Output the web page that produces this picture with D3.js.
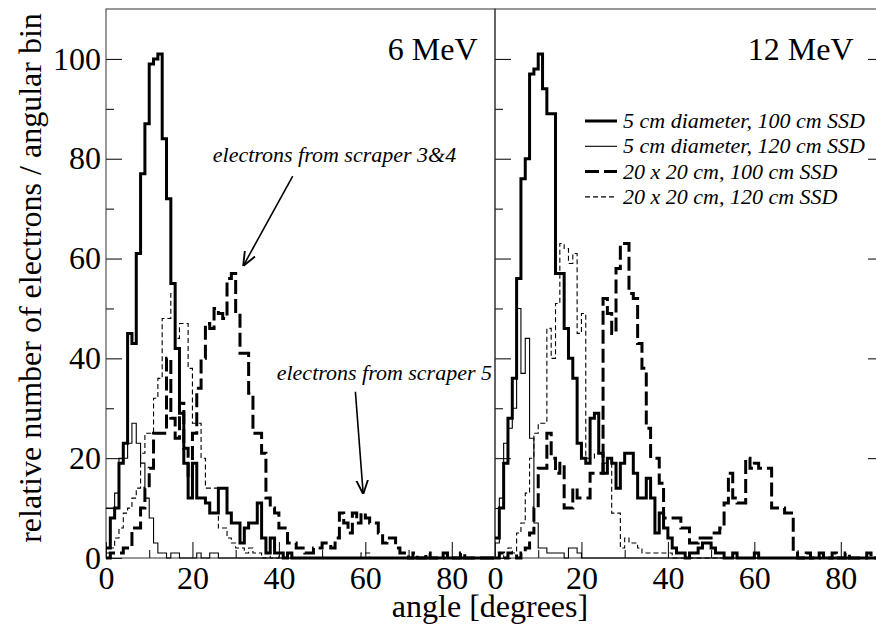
<!DOCTYPE html>
<html>
<head>
<meta charset="utf-8">
<script src="https://cdn.jsdelivr.net/npm/d3@7"></script>
<style>
body { margin: 0; background: #fff; }
svg { display: block; }
text { font-family: "Liberation Serif", "Times New Roman", serif; fill: #000; }
</style>
</head>
<body>
<script>
// 1 degree angular bins, 0..89
var angleBins = d3.range(0, 90);
var xTicks = [0, 20, 40, 60, 80];
var yTicks = [0, 20, 40, 60, 80, 100];
var panelNames = ["6 MeV", "12 MeV"];
var seriesNames = [
  "5 cm diameter, 100 cm SSD",
  "5 cm diameter, 120 cm SSD",
  "20 x 20 cm, 100 cm SSD",
  "20 x 20 cm, 120 cm SSD"
];

// 6 MeV
var thick6 = [2, 8, 10, 19, 23, 45, 43, 61, 77, 87,
  99, 100, 101, 84, 72, 55, 42, 29, 19, 12,
  19, 12, 12, 11, 9, 9, 14, 14, 9, 7,
  7, 3, 6, 7, 7, 11, 4, 1, 4, 1,
  1, 0, 1, 0, 0, 0, 0, 0, 0, 0,
  0, 0, 0, 0, 0, 0, 0, 0, 0, 0,
  0, 0, 0, 0, 0, 0, 0, 0, 0, 0,
  0, 0, 0, 0, 0, 0, 0, 0, 0, 0,
  0, 0, 0, 0, 0, 0, 0, 0, 0, 0];
var thin6 = [10, 10, 13, 20, 20, 23, 27, 23, 19, 12,
  8, 3, 1, 1, 0, 1, 1, 0, 0, 0,
  0, 1, 0, 0, 1, 1, 0, 0, 0, 0,
  0, 0, 0, 0, 0, 0, 0, 0, 0, 0,
  0, 0, 0, 0, 0, 0, 0, 0, 0, 0,
  0, 0, 0, 0, 0, 0, 0, 0, 0, 0,
  0, 0, 0, 0, 0, 0, 0, 0, 0, 0,
  0, 0, 0, 0, 0, 0, 0, 0, 0, 0,
  0, 0, 0, 0, 0, 0, 0, 0, 0, 0];
var dash6 = [0, 1, 1, 1, 2, 2, 6, 6, 10, 14,
  18, 25, 25, 25, 40, 28, 24, 31, 22, 16,
  25, 34, 40, 47, 46, 50, 49, 48, 56, 57,
  49, 41, 41, 33, 25, 25, 21, 12, 10, 9,
  6, 6, 3, 3, 2, 2, 1, 1, 2, 2,
  3, 3, 2, 4, 9, 7, 5, 9, 7, 9,
  8, 7, 7, 5, 3, 4, 4, 2, 1, 1,
  0, 1, 0, 0, 1, 0, 0, 0, 1, 0,
  0, 0, 1, 0, 0, 0, 0, 0, 0, 0];
var thinDash6 = [1, 2, 4, 6, 9, 10, 12, 14, 21, 25,
  25, 32, 36, 48, 48, 53, 44, 47, 47, 38,
  27, 27, 20, 14, 14, 14, 6, 6, 4, 3,
  2, 2, 1, 2, 1, 1, 0, 1, 0, 0,
  1, 0, 0, 0, 0, 0, 0, 0, 0, 0,
  0, 0, 0, 0, 0, 0, 0, 0, 0, 1,
  1, 0, 0, 0, 0, 0, 0, 0, 0, 0,
  0, 0, 0, 0, 0, 0, 0, 0, 0, 0,
  0, 0, 0, 0, 0, 0, 0, 0, 0, 0];

// 12 MeV
var thick12 = [4, 10, 19, 28, 36, 56, 76, 80, 97, 98,
  101, 94, 89, 89, 57, 57, 46, 40, 36, 23,
  20, 19, 28, 29, 21, 17, 20, 19, 14, 19,
  21, 21, 17, 12, 12, 16, 12, 5, 9, 6,
  4, 2, 1, 1, 0, 1, 1, 2, 3, 3,
  2, 1, 1, 0, 0, 1, 0, 0, 0, 0,
  1, 0, 0, 0, 0, 0, 0, 0, 0, 0,
  0, 0, 0, 0, 0, 0, 0, 0, 0, 0,
  0, 0, 0, 0, 0, 0, 0, 0, 0, 0];
var thin12 = [3, 12, 23, 26, 30, 50, 37, 44, 24, 7,
  2, 2, 1, 1, 1, 1, 0, 2, 2, 1,
  0, 0, 0, 0, 0, 0, 0, 0, 0, 0,
  0, 0, 0, 0, 0, 0, 0, 0, 0, 0,
  0, 0, 0, 0, 0, 0, 0, 0, 0, 0,
  0, 0, 0, 0, 0, 0, 0, 0, 0, 0,
  0, 0, 0, 0, 0, 0, 0, 0, 0, 0,
  0, 0, 0, 0, 0, 0, 0, 0, 0, 0,
  0, 0, 0, 0, 0, 0, 0, 0, 0, 0];
var dash12 = [0, 1, 0, 1, 1, 0, 1, 2, 5, 10,
  18, 18, 25, 20, 17, 19, 10, 10, 14, 12,
  12, 12, 17, 17, 17, 52, 49, 45, 58, 63,
  63, 53, 52, 43, 38, 26, 20, 20, 15, 8,
  8, 8, 8, 6, 6, 3, 3, 4, 4, 4,
  5, 5, 6, 11, 17, 12, 11, 11, 20, 18,
  19, 18, 18, 18, 10, 10, 10, 9, 9, 1,
  0, 0, 1, 0, 0, 1, 0, 0, 1, 0,
  0, 1, 0, 0, 0, 0, 1, 0, 0, 0];
var thinDash12 = [0, 1, 0, 2, 1, 5, 7, 13, 20, 25,
  27, 27, 46, 40, 51, 63, 62, 59, 61, 45,
  49, 20, 20, 21, 21, 19, 19, 9, 9, 2,
  4, 3, 3, 2, 1, 1, 1, 1, 1, 1,
  1, 0, 0, 0, 0, 0, 0, 0, 0, 0,
  0, 0, 0, 0, 0, 0, 0, 0, 0, 0,
  0, 0, 0, 0, 0, 0, 0, 0, 0, 0,
  0, 0, 0, 0, 0, 0, 0, 0, 0, 0,
  0, 0, 0, 0, 0, 0, 0, 0, 0, 0];

const W = 876, H = 629;
const marginLeft = 106, marginTop = 9;
const pw = 389, ph = 549;

var styles = [
  { w: 3, dash: null },
  { w: 1.1, dash: null },
  { w: 3, dash: "14,5" },
  { w: 1.1, dash: "5,3" }
];

var svg = d3.select("body").append("svg")
  .attr("width", W)
  .attr("height", H);

svg.append("defs").append("marker")
  .attr("id", "arrow")
  .attr("viewBox", "0 0 12 12")
  .attr("refX", 11.5).attr("refY", 6)
  .attr("markerWidth", 14).attr("markerHeight", 14)
  .attr("markerUnits", "userSpaceOnUse")
  .attr("orient", "auto")
  .append("path")
  .attr("d", "M0,1 L12,6 L0,11")
  .attr("fill", "none")
  .attr("stroke", "#000")
  .attr("stroke-width", 1.6);

var x = d3.scaleLinear().domain([0, 90]).range([0, pw]);
var y = d3.scaleLinear().domain([0, 110]).range([ph, 0]);

var line = d3.line()
  .x(d => x(d[0]))
  .y(d => y(d[1]))
  .curve(d3.curveStepAfter);

function histPoints(values) {
  var pts = values.map((v, i) => [angleBins[i], v]);
  pts.push([angleBins[angleBins.length - 1] + 1, values[values.length - 1]]);
  return pts;
}

function drawPanel(offset, series, name, isFirst) {
  var g = svg.append("g").attr("transform", "translate(" + offset + "," + marginTop + ")");

  // minor + major ticks, all pointing inward
  g.append("g").attr("transform", "translate(0," + ph + ")")
    .call(d3.axisBottom(x).tickValues(d3.range(10, 90, 20)).tickSize(-8).tickSizeOuter(0).tickFormat(""));
  var xa = g.append("g").attr("transform", "translate(0," + ph + ")")
    .call(d3.axisBottom(x).tickValues(xTicks).tickSize(-16).tickSizeOuter(0).tickPadding(8));
  xa.selectAll("text").attr("font-size", 32).attr("font-family", "Liberation Serif");

  g.append("g")
    .call(d3.axisLeft(y).tickValues(d3.range(10, 110, 20)).tickSize(-8).tickSizeOuter(0).tickFormat(""));
  var ya = g.append("g")
    .call(d3.axisLeft(y).tickValues(yTicks).tickSize(-16).tickSizeOuter(0).tickPadding(5));
  if (isFirst) {
    ya.selectAll("text").attr("font-size", 32).attr("font-family", "Liberation Serif");
  } else {
    ya.selectAll("text").remove();
    // right-hand ticks of the outer frame
    g.append("g").attr("transform", "translate(" + pw + ",0)")
      .call(d3.axisRight(y).tickValues(d3.range(10, 110, 20)).tickSize(-8).tickSizeOuter(0).tickFormat(""));
    g.append("g").attr("transform", "translate(" + pw + ",0)")
      .call(d3.axisRight(y).tickValues(yTicks).tickSize(-16).tickSizeOuter(0).tickFormat(""));
  }
  g.selectAll(".domain").remove();
  g.selectAll(".tick line").attr("stroke", "#000").attr("stroke-width", 1);

  // frame
  g.append("rect")
    .attr("x", 0).attr("y", 0)
    .attr("width", pw).attr("height", ph)
    .attr("fill", "none")
    .attr("stroke", "#333")
    .attr("stroke-width", 1);

  series.forEach(function (vals, i) {
    g.append("path")
      .datum(histPoints(vals))
      .attr("d", line)
      .attr("fill", "none")
      .attr("stroke", "#000")
      .attr("stroke-width", styles[i].w)
      .attr("stroke-dasharray", styles[i].dash)
      .attr("stroke-linejoin", "miter");
  });

  g.append("text")
    .attr("x", isFirst ? x(65.2) : x(58.5))
    .attr("y", y(100) + 1)
    .attr("font-size", 32)
    .text(name);

  return g;
}

var g6 = drawPanel(marginLeft, [thick6, thin6, dash6, thinDash6], panelNames[0], true);
var g12 = drawPanel(marginLeft + pw, [thick12, thin12, dash12, thinDash12], panelNames[1], false);

// annotations in the 6 MeV panel
var notes = [
  { text: "electrons from scraper 3&4", tx: 24.7, ty: 79.3, from: [43.2, 76.5], to: [31.8, 58.6] },
  { text: "electrons from scraper 5", tx: 39.5, ty: 35.7, from: [57.7, 33.3], to: [59.5, 12.9] }
];
notes.forEach(function (n) {
  g6.append("text")
    .attr("x", x(n.tx)).attr("y", y(n.ty))
    .attr("font-size", 22)
    .attr("font-style", "italic")
    .text(n.text);
  g6.append("line")
    .attr("x1", x(n.from[0])).attr("y1", y(n.from[1]))
    .attr("x2", x(n.to[0])).attr("y2", y(n.to[1]))
    .attr("stroke", "#000")
    .attr("stroke-width", 1.6)
    .attr("marker-end", "url(#arrow)");
});

// legend in the 12 MeV panel
var legend = g12.append("g").attr("transform", "translate(90,112)");
seriesNames.forEach(function (s, i) {
  var row = legend.append("g").attr("transform", "translate(0," + (i * 25.3) + ")");
  row.append("line")
    .attr("x1", 0).attr("x2", 32)
    .attr("stroke", "#000")
    .attr("stroke-width", styles[i].w)
    .attr("stroke-dasharray", styles[i].dash);
  row.append("text")
    .attr("x", 38).attr("y", 7)
    .attr("font-size", 22)
    .attr("font-style", "italic")
    .text(s);
});

// axis titles
svg.append("text")
  .attr("x", 490).attr("y", 617)
  .attr("text-anchor", "middle")
  .attr("font-size", 32)
  .text("angle [degrees]");

svg.append("text")
  .attr("transform", "translate(41,278) rotate(-90)")
  .attr("text-anchor", "middle")
  .attr("font-size", 32)
  .text("relative number of electrons / angular bin");
</script>
</body>
</html>
